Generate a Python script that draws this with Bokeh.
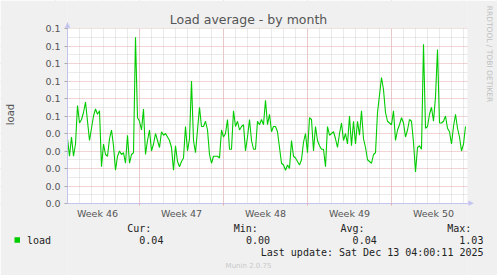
from math import pi
from bokeh.plotting import figure
from bokeh.models import Range1d, FixedTicker, Label, BoxAnnotation, LinearAxis
from bokeh.embed import file_html
from bokeh.resources import INLINE

# ---- data (load average, 4-hour samples starting Mon 10 Nov 2025 00:00) ----
load = [
    0.037, 0.027, 0.038, 0.027, 0.034, 0.056, 0.046, 0.048, 0.052, 0.058,
    0.047, 0.036, 0.043, 0.050, 0.054, 0.051, 0.053, 0.021, 0.034, 0.028,
    0.027, 0.037, 0.042, 0.033, 0.019, 0.027, 0.030, 0.028, 0.029, 0.023,
    0.039, 0.023, 0.028, 0.029, 0.095, 0.049, 0.047, 0.042, 0.054, 0.028,
    0.036, 0.042, 0.030, 0.034, 0.040, 0.036, 0.032, 0.041, 0.039, 0.040,
    0.038, 0.036, 0.032, 0.019, 0.033, 0.024, 0.021, 0.024, 0.026, 0.044,
    0.030, 0.037, 0.070, 0.036, 0.029, 0.042, 0.055, 0.044, 0.044, 0.047,
    0.042, 0.028, 0.023, 0.027, 0.027, 0.027, 0.026, 0.042, 0.038, 0.040,
    0.048, 0.031, 0.031, 0.053, 0.044, 0.047, 0.042, 0.044, 0.045, 0.030,
    0.038, 0.048, 0.036, 0.031, 0.031, 0.047, 0.045, 0.048, 0.045, 0.059,
    0.045, 0.051, 0.041, 0.044, 0.044, 0.041, 0.032, 0.023, 0.022, 0.019,
    0.022, 0.020, 0.036, 0.027, 0.026, 0.024, 0.022, 0.025, 0.035, 0.040,
    0.029, 0.049, 0.048, 0.030, 0.044, 0.036, 0.033, 0.031, 0.031, 0.021,
    0.044, 0.039, 0.040, 0.041, 0.037, 0.032, 0.040, 0.046, 0.036, 0.040,
    0.034, 0.050, 0.033, 0.047, 0.034, 0.047, 0.039, 0.053, 0.037, 0.032,
    0.025, 0.024, 0.023, 0.028, 0.029, 0.052, 0.062, 0.072, 0.065, 0.052,
    0.047, 0.046, 0.045, 0.053, 0.036, 0.042, 0.045, 0.049, 0.046, 0.038,
    0.042, 0.048, 0.047, 0.035, 0.018, 0.032, 0.033, 0.031, 0.091, 0.043,
    0.044, 0.051, 0.055, 0.047, 0.061, 0.088, 0.046, 0.046, 0.047, 0.050,
    0.043, 0.041, 0.034, 0.044, 0.051, 0.043, 0.038, 0.030, 0.034, 0.044,
]
sample_hours = 4
days = [i * sample_hours / 24 for i in range(len(load))]
window_days = 33 + 8 / 24          # Mon 10 Nov 00:00 -> Sat 13 Dec 08:00

week_labels = ["Week 46", "Week 47", "Week 48", "Week 49", "Week 50"]
week_starts = [-1, 6, 13, 20, 27]   # Sundays (days from 10 Nov)
day_lines = list(range(1, 34))
y_ticks = [k / 100 for k in range(11)]
y_tick_labels = ["0.0"] * 5 + ["0.1"] * 6
y_minor = [k / 200 for k in range(1, 20, 2)]

title_text = "Load average - by month"
y_label = "load"
series_name = "load"
stat_names = ["Cur:", "Min:", "Avg:", "Max:"]
stat_values = ["0.04", "0.00", "0.04", "1.03"]
last_update = "Last update: Sat Dec 13 04:00:11 2025"
watermark = "RRDTOOL / TOBI OETIKER"
footer = "Munin 2.0.75"

# ---- layout helpers (pixel -> data coords) ----
CW, CH = 497, 275
L, T, W, H = 67, 28, 400, 175
Y_MAX = 0.1


def fx(px):
    return (px - L) / W * window_days


def fy(py):
    return (T + H - py) / H * Y_MAX


GREEN = "#00CC00"
TXT = "#555555"
LEG = "#222222"
MONO = "DejaVu Sans Mono"
SANS = "DejaVu Sans"
BACK = "#F0F0F0"
AX = "#c4c4f0"
MGRID = "#e6a8a8"
GRID = "#d4d4d4"

p = figure(width=CW, height=CH, output_backend="svg", toolbar_location=None,
           x_range=Range1d(fx(0), fx(CW)), y_range=Range1d(fy(CH), fy(0)),
           min_border=0, title=None)
p.background_fill_color = "white"
p.border_fill_color = BACK
p.outline_line_color = None

# grids
xg = p.xgrid[0]
xg.ticker = FixedTicker(ticks=week_starts, minor_ticks=day_lines)
xg.grid_line_color = MGRID
xg.grid_line_dash = "1 1"
xg.minor_grid_line_color = GRID
xg.minor_grid_line_dash = "1 1"

yg = p.ygrid[0]
yg.ticker = FixedTicker(ticks=y_ticks, minor_ticks=y_minor)
yg.grid_line_color = MGRID
yg.grid_line_dash = "1 1"
yg.minor_grid_line_color = GRID
yg.minor_grid_line_dash = "1 1"

# grey surround outside the canvas area (covers grid ends, below axes)
x0r, x1r = p.x_range.start, p.x_range.end
y0r, y1r = p.y_range.start, p.y_range.end
for l, r, b, t in [(x0r, 0, y0r, y1r), (window_days, x1r, y0r, y1r),
                   (0, window_days, Y_MAX, y1r), (0, window_days, y0r, 0)]:
    p.add_layout(BoxAnnotation(left=l, right=r, bottom=b, top=t, fill_color=BACK,
                               fill_alpha=1, line_color=None, level="glyph"))

# axes drawn at the data origin
xa = p.xaxis[0]
xa.fixed_location = 0
xa.bounds = (0, fx(468))
xa.ticker = FixedTicker(ticks=[w + 3.5 for w in week_starts])
xa.major_label_overrides = {w + 3.5: lab for w, lab in zip(week_starts, week_labels)}
xa.axis_line_color = AX
xa.major_tick_line_color = None
xa.major_tick_out = 0
xa.major_tick_in = 0
xa.minor_tick_line_color = None
xa.minor_tick_out = 0
xa.major_label_standoff = 4
xa.major_label_text_font = SANS
xa.major_label_text_font_size = "9.5px"
xa.major_label_text_color = TXT

xt = LinearAxis(fixed_location=0, ticker=FixedTicker(ticks=week_starts[1:]),
                axis_line_color=None, major_tick_line_color=MGRID,
                major_tick_in=0, major_tick_out=2, minor_tick_line_color=None,
                major_label_text_color=None)
p.add_layout(xt, "below")

ya = p.yaxis[0]
ya.fixed_location = 0
ya.bounds = (0, fy(22))
ya.ticker = FixedTicker(ticks=y_ticks, minor_ticks=y_minor)
ya.major_label_overrides = {t: lab for t, lab in zip(y_ticks, y_tick_labels)}
ya.axis_line_color = AX
ya.major_tick_line_color = "#aaaaaa"
ya.major_tick_out = 3
ya.major_tick_in = 0
ya.minor_tick_line_color = None
ya.minor_tick_out = 0
ya.major_label_standoff = 4
ya.major_label_text_font = SANS
ya.major_label_text_font_size = "9.5px"
ya.major_label_text_color = TXT

# series
p.line(days, load, line_color=GREEN, line_width=1.1)

# axis arrows
p.add_layout(Label(x=0, y=fy(24.3), text="\u25b2", text_font=SANS, text_font_size="7px",
                   text_color=AX, text_align="center", text_baseline="middle"))
p.add_layout(Label(x=fx(470.5), y=fy(202.8), text="\u25b6", text_font=SANS,
                   text_font_size="7px", text_color=AX,
                   text_align="center", text_baseline="middle"))

# texts
p.add_layout(Label(x=fx(248), y=fy(19), text=title_text, text_font=SANS,
                   text_font_size="12.5px", text_color=TXT,
                   text_align="center", text_baseline="middle"))
p.add_layout(Label(x=fx(10), y=fy(114), text=y_label, text_font=SANS,
                   text_font_size="10px", text_color=TXT, angle=pi / 2,
                   text_align="center", text_baseline="middle"))
p.add_layout(Label(x=fx(488.5), y=fy(53.5), text=watermark, text_font=SANS,
                   text_font_size="7.5px", text_color="#c0c0c0", angle=-pi / 2,
                   text_align="center", text_baseline="middle"))

# legend
p.add_layout(BoxAnnotation(left=fx(14), right=fx(19.5), top=fy(236.8), bottom=fy(242.3),
                           fill_color=GREEN, fill_alpha=1, line_color=None))
p.add_layout(Label(x=fx(26.5), y=fy(239.5), text=series_name, text_font=MONO,
                   text_font_size="10px", text_color=LEG,
                   text_align="left", text_baseline="middle"))
col_start = [126.7, 233.3, 340.0, 446.7]
for cx, name, val in zip(col_start, stat_names, stat_values):
    p.add_layout(Label(x=fx(cx), y=fy(228), text=name, text_font=MONO,
                       text_font_size="10px", text_color=LEG,
                       text_align="left", text_baseline="middle"))
    p.add_layout(Label(x=fx(cx + 36.2), y=fy(239.5), text=val, text_font=MONO,
                       text_font_size="10px", text_color=LEG,
                       text_align="right", text_baseline="middle"))
p.add_layout(Label(x=fx(483), y=fy(251.5), text=last_update, text_font=MONO,
                   text_font_size="10px", text_color=LEG,
                   text_align="right", text_baseline="middle"))
p.add_layout(Label(x=fx(248), y=fy(265), text=footer, text_font=SANS,
                   text_font_size="7px", text_color="#c8c8c8",
                   text_align="center", text_baseline="middle"))

open("out.html", "w").write(file_html(p, INLINE))
